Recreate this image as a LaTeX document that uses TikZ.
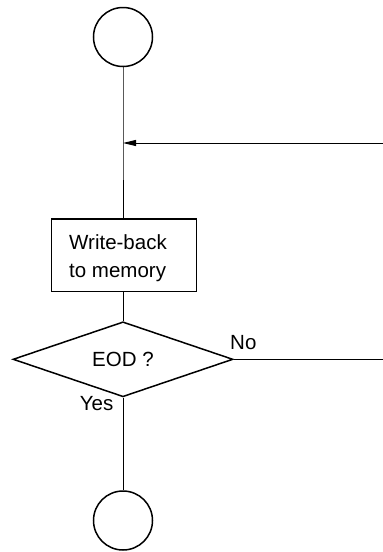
\documentclass[tikz,border=0pt]{standalone}
\usepackage{fontspec}
\setmainfont{Liberation Sans}
\usetikzlibrary{shapes.geometric,arrows.meta}
\begin{document}
\begin{tikzpicture}[x=1pt,y=1pt,
  lbl/.style={font=\fontsize{20.5}{28.3}\selectfont,inner sep=0pt},
  term/.style={circle,draw,line width=1.5pt,minimum size=59pt,inner sep=0pt},
  proc/.style={rectangle,draw,line width=1.2pt,minimum width=145pt,minimum height=72.7pt,inner sep=0pt},
  dec/.style={diamond,draw,line width=1.5pt,aspect=2.9,minimum width=220pt,minimum height=75pt,inner sep=0pt,lbl},
  conn/.style={line width=1pt}]
\useasboundingbox (0,0) rectangle (383,-552);
\node[term] (c1) at (123,-37) {};
\node[proc] (wb) at (124,-255.4) {};
\node[lbl,align=left] (wbt) at ([xshift=-6pt,yshift=-3pt]wb.center) {Write-back\\to memory};
\node[dec] (d) at (123,-359.3) {EOD ?};
\node[term] (c2) at (123,-520.5) {};
\coordinate (j) at (123,-143);
\coordinate (r1) at (383,-143);
\coordinate (r2) at (383,-359.3);
\node[lbl,anchor=base west] (no) at (230,-349.3) {No};
\node[lbl,anchor=base east] (yes) at (113.5,-410) {Yes};
\draw[conn] (c1) -- (j) -- (c1 |- wb.north);
\draw[conn,-{Triangle[length=13pt,width=6pt]}] (r1) -- (j);
\draw[conn] (c1 |- wb.south) -- (d);
\draw[conn] (d.south) -- (c2);
\draw[conn] (d.east) -- (r2);
\end{tikzpicture}
\end{document}
